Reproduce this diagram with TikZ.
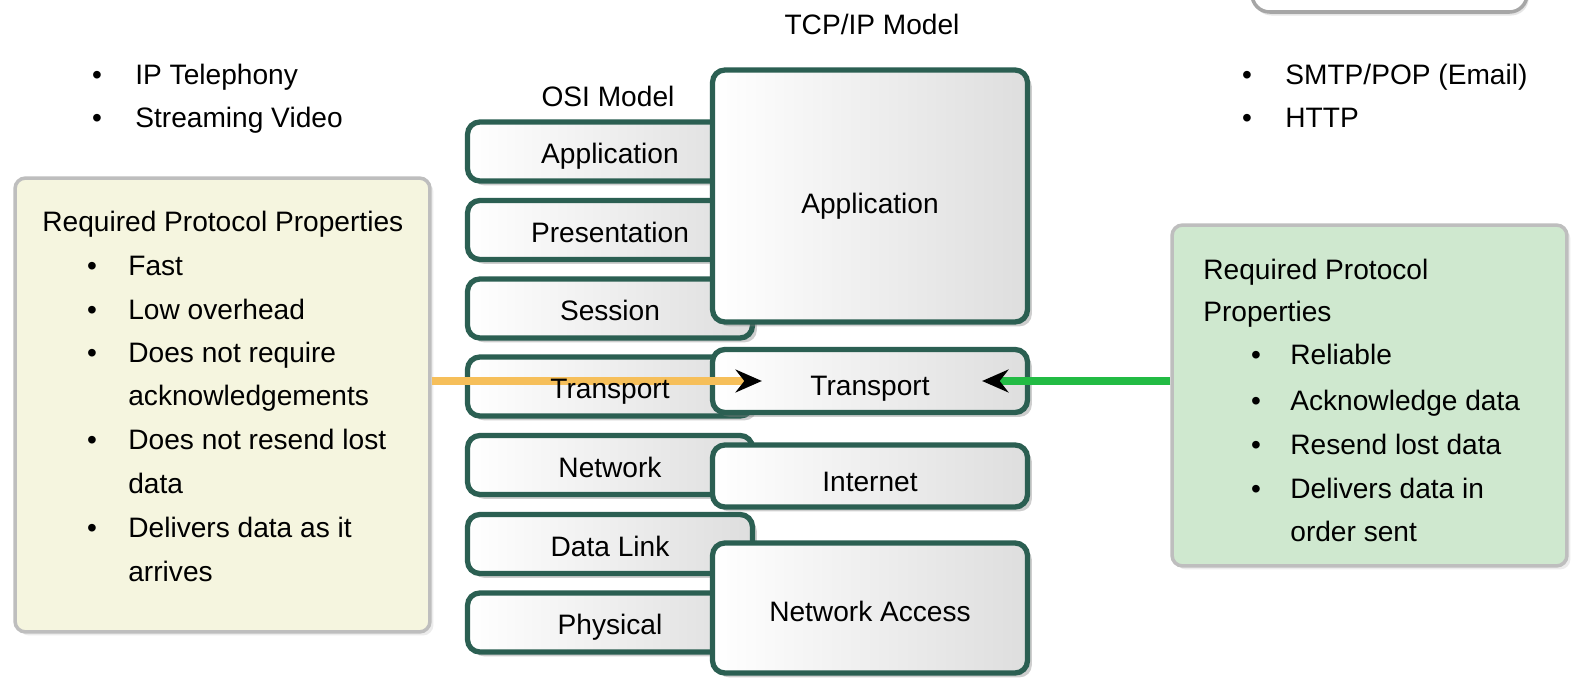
\documentclass[tikz,border=0pt]{standalone}
\usepackage{fontspec}
\setmainfont{Liberation Sans}
\usetikzlibrary{arrows.meta,shadows,calc}
\definecolor{boxline}{HTML}{2B5F52}
\definecolor{ylwfill}{HTML}{F5F5DF}
\definecolor{grnfill}{HTML}{CFE8CF}
\definecolor{panelline}{HTML}{BEBEBE}
\definecolor{orangeC}{HTML}{F6BF5A}
\definecolor{greenC}{HTML}{22BB44}
\begin{document}
\begin{tikzpicture}[x=0.02cm,y=-0.02cm,
  font=\fontsize{16}{20}\selectfont,
  layerbox/.style={draw=boxline, line width=3pt, rounded corners=7pt,
    left color=white, right color=black!13, inner sep=0pt, text depth=0pt,
    drop shadow={opacity=0.38, shadow xshift=2.5pt, shadow yshift=-2.5pt}},
  osibox/.style={layerbox, minimum width=5.7cm, minimum height=1.18cm, text height=14pt},
  tcpbox/.style={layerbox, minimum width=6.3cm},
  panel/.style={draw=panelline, line width=2pt, rounded corners=6pt, inner sep=0pt,
    drop shadow={opacity=0.15, shadow xshift=2pt, shadow yshift=-2pt}},
  txt/.style={inner sep=0pt, anchor=base west},
  bul/.style={inner sep=0pt, anchor=base},
  flow/.style={line width=4.5pt, -{Stealth[length=15pt, width=13pt, inset=5pt, color=black]}}
]
\clip (0,0) rectangle (1571,685);
\fill[white] (0,0) rectangle (1571,685);

% partial box at top right
\draw[draw=black!35, line width=2pt, fill=white, rounded corners=10pt,
  drop shadow={opacity=0.2, shadow xshift=1pt, shadow yshift=-2pt}] (1252,-40) rectangle (1527,12);

% titles
\node[bul] (tcptitle) at (872,35) {TCP/IP Model};
\node[bul] (osititle) at (608,107) {OSI Model};

% top lists
\node[bul] (lb1) at (97,85) {•};
\node[txt] (lt1) at (135,85) {IP Telephony};
\node[bul] (lb2) at (97,128) {•};
\node[txt] (lt2) at (135,128) {Streaming Video};
\node[bul] (rb1) at (1247,85) {•};
\node[txt] (rt1) at (1285,85) {SMTP/POP (Email)};
\node[bul] (rb2) at (1247,128) {•};
\node[txt] (rt2) at (1285,128) {HTTP};

% side panels
\node[panel, fill=ylwfill, minimum width=8.3cm, minimum height=9.08cm] (ybox) at (222.5,405) {};
\node[panel, fill=grnfill, minimum width=7.9cm, minimum height=6.82cm] (gbox) at (1369.5,395.5) {};

% left panel text
\node[txt] (yh) at (42,232) {Required Protocol Properties};
\foreach \yy/\tt/\bb in {276/Fast/1, 320/Low overhead/1, 363/Does not require/1,
    406/acknowledgements/0, 450/Does not resend lost/1, 493/data/0,
    537/Delivers data as it/1, 581/arrives/0}{
  \ifnum\bb=1 \node[bul] (yb\yy) at (92,\yy) {•};\fi
  \node[txt] (yl\yy) at (128,\yy) {\tt};
}

% right panel text
\node[txt] (gh1) at (1203,280) {Required Protocol};
\node[txt] (gh2) at (1203,322) {Properties};
\foreach \yy/\tt/\bb in {365/Reliable/1, 411/Acknowledge data/1, 455/Resend lost data/1,
    498/Delivers data in/1, 541/order sent/0}{
  \ifnum\bb=1 \node[bul] (gb\yy) at (1256,\yy) {•};\fi
  \node[txt] (gl\yy) at (1290,\yy) {\tt};
}

% OSI layers
\node[osibox] (osi1) at (610,151.5) {Application};
\node[osibox] (osi2) at (610,230) {Presentation};
\node[osibox] (osi3) at (610,308.5) {Session};
\node[osibox] (osi4) at (610,386.5) {};
\node[osibox] (osi5) at (610,465) {Network};
\node[osibox] (osi6) at (610,544) {Data Link};
\node[osibox] (osi7) at (610,622.5) {Physical};

% TCP/IP layers
\node[tcpbox, minimum height=5.04cm, text height=19.6pt] (tapp) at (870,196) {Application};
\node[tcpbox, minimum height=1.26cm, text height=16.2pt] (ttr) at (870,381) {Transport};
\node[tcpbox, minimum height=1.24cm, text height=17.4pt] (tint) at (870,476) {Internet};
\node[tcpbox, minimum height=2.6cm, text height=15pt] (tna) at (870,608) {Network Access};

% arrows
\draw[flow, draw=orangeC] (ybox.east |- ttr.west) -- ($(ttr.west)+(52,0)$);
\draw[flow, draw=greenC] (gbox.west |- ttr.east) -- ($(ttr.east)+(-48,0)$);

\node[inner sep=0pt, text depth=0pt, text height=14pt] (osi4t) at (osi4) {Transport};
\end{tikzpicture}
\end{document}
